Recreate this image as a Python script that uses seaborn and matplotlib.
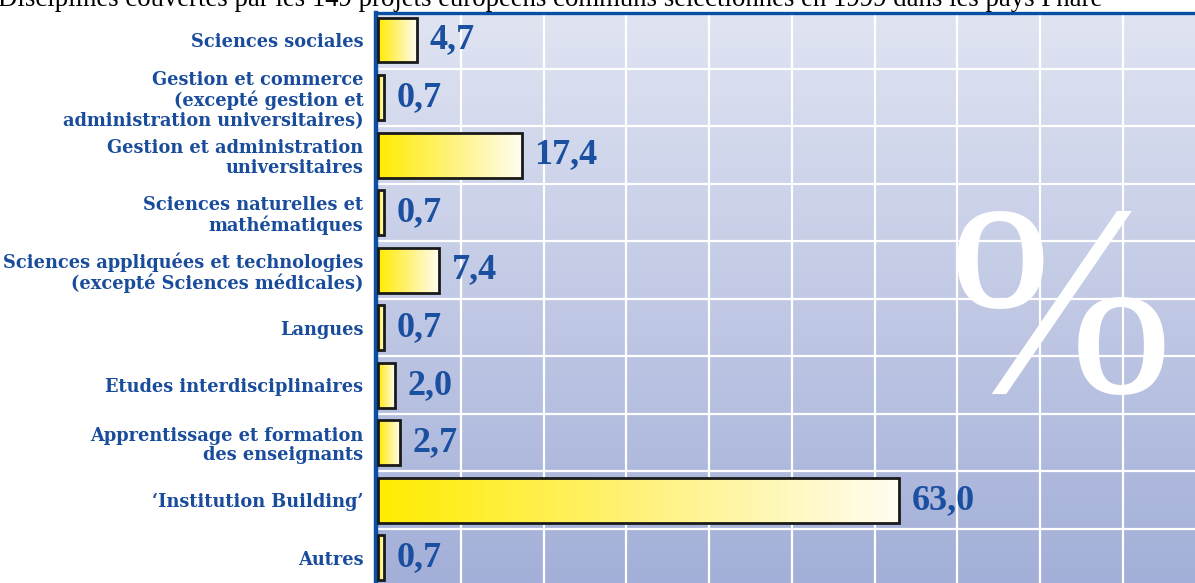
import numpy as np
import pandas as pd
import matplotlib
matplotlib.use("Agg")
import matplotlib.pyplot as plt
import seaborn as sns
from matplotlib.colors import LinearSegmentedColormap

# Data: share (%) of the 149 joint European projects by discipline
categories = [
    "Sciences sociales",
    "Gestion et commerce\n(excepté gestion et\nadministration universitaires)",
    "Gestion et administration\nuniversitaires",
    "Sciences naturelles et\nmathématiques",
    "Sciences appliquées et technologies\n(excepté Sciences médicales)",
    "Langues",
    "Etudes interdisciplinaires",
    "Apprentissage et formation\ndes enseignants",
    "\u2018Institution Building\u2019",
    "Autres",
]
shares = [4.7, 0.7, 17.4, 0.7, 7.4, 0.7, 2.0, 2.7, 63.0, 0.7]
value_labels = ["4,7", "0,7", "17,4", "0,7", "7,4", "0,7", "2,0", "2,7", "63,0", "0,7"]
grid_ticks = [10, 20, 30, 40, 50, 60, 70, 80, 90]
title = ("Disciplines couvertes par les 149 projets européens communs "
         "sélectionnés en 1999 dans les pays Phare")

sns.set_theme(style="white")
plt.rcParams["font.family"] = ["Liberation Serif", "DejaVu Serif"]

LABEL_BLUE = "#1a4c9c"
VALUE_BLUE = "#1b4fa0"
SPINE_BLUE = "#0a4fa3"

W, H = 1195, 583
fig = plt.figure(figsize=(W / 100, H / 100), dpi=100)
fig.patch.set_facecolor("white")
ax = fig.add_axes([376 / W, 0, 1 - 376 / W, 1 - 13 / H])

df = pd.DataFrame({"discipline": categories, "share": shares})
sns.barplot(data=df, x="share", y="discipline", orient="h", ax=ax,
            width=0.78, color="#ffec00", saturation=1,
            edgecolor="#1a1a1a", linewidth=2.0)

# Panel background: vertical lavender gradient
bg = LinearSegmentedColormap.from_list("bg", ["#a3afd8", "#e0e4f2"])
ax.imshow(np.linspace(0, 1, 256).reshape(-1, 1), cmap=bg, origin="lower",
          extent=(0, 1, 0, 1), transform=ax.transAxes, aspect="auto", zorder=0)

# Yellow-to-white gradient fill inside every bar
bar_cmap = LinearSegmentedColormap.from_list(
    "bar", ["#ffec00", "#fff27a", "#fffdf2"])
for p in ax.patches:
    x0, y0, w, h = p.get_x(), p.get_y(), p.get_width(), p.get_height()
    p.set_facecolor("none")
    p.set_zorder(3)
    im = ax.imshow(np.linspace(0, 1, 256).reshape(1, -1), cmap=bar_cmap,
                   extent=(x0, x0 + w, y0 + h, y0), aspect="auto", zorder=2.5)
    im.set_clip_path(p)

# Value labels
for i, (v, lbl) in enumerate(zip(shares, value_labels)):
    ax.annotate(lbl, xy=(v, i), xytext=(9, 0), textcoords="offset points",
                ha="left", va="center", fontsize=26, fontweight="bold",
                color=VALUE_BLUE, zorder=4)

# Large percent sign
ax.text((1061 - 376) / (W - 376), 192 / (H - 13), "%", transform=ax.transAxes,
        ha="center", va="baseline", fontsize=195, color="white", zorder=1)

ax.set_xlim(-0.24, 98.7)
ax.set_ylim(9.44, -0.47)

# White grid
ax.set_xticks(grid_ticks)
ax.set_yticks(np.arange(0.5, len(categories) - 1, 1), minor=True)
ax.xaxis.grid(True, color="white", linewidth=1.6)
ax.yaxis.grid(True, which="minor", color="white", linewidth=1.6)
ax.yaxis.grid(False, which="major")
ax.set_axisbelow(True)

ax.tick_params(axis="x", labelbottom=False, length=0)
ax.tick_params(axis="y", which="both", length=0, pad=9)
for t in ax.get_yticklabels():
    t.set_family(["DejaVu Serif"])
    t.set_fontsize(12.8)
    t.set_fontweight("bold")
    t.set_color(LABEL_BLUE)
    t.set_linespacing(1.12)
ax.set_xlabel("")
ax.set_ylabel("")

for side in ("right", "bottom"):
    ax.spines[side].set_visible(False)
ax.spines["left"].set_color(SPINE_BLUE)
ax.spines["left"].set_linewidth(3.2)
ax.spines["top"].set_color(SPINE_BLUE)
ax.spines["top"].set_linewidth(2.4)

fig.text(-2 / W, 1 - 6 / H, title, ha="left", va="baseline",
         fontsize=19.3, color="black")

fig.savefig("out.png", dpi=100)
